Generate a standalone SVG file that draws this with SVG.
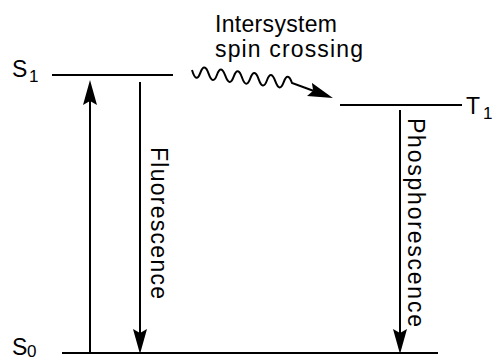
<svg xmlns="http://www.w3.org/2000/svg" width="496" height="360" viewBox="0 0 496 360">
<style>
.lvl{stroke:#000;stroke-width:2;fill:none}
.arr{stroke:#000;stroke-width:2;fill:none;marker-end:url(#ah)}
.t{font-family:"Liberation Sans",Arial,sans-serif;fill:#000}
.lab{font-size:23px}
.sub{font-size:17px}
.big{font-size:23px}
</style>
<defs>
<marker id="ah" markerUnits="userSpaceOnUse" markerWidth="26" markerHeight="16" viewBox="0 0 26 16" refX="4" refY="7" orient="auto">
<path d="M25,7 L0,0 L4,7 L0,14 Z" fill="#000"/>
</marker>
</defs>
<g id="S1">
<line class="lvl" x1="52" y1="75" x2="173" y2="75"/>
<text class="t lab" x="12" y="77">S</text><text class="t sub" x="29" y="82">1</text>
</g>
<g id="T1">
<line class="lvl" x1="340" y1="105" x2="462" y2="105"/>
<text class="t lab" x="466" y="114">T</text><text class="t sub" x="483" y="119">1</text>
</g>
<g id="S0">
<line class="lvl" x1="62" y1="353" x2="438" y2="353"/>
<text class="t lab" x="12" y="355">S</text><text class="t sub" x="27" y="357">0</text>
</g>
<g id="isc-label">
<text class="t big" x="215" y="32" textLength="122" lengthAdjust="spacing">Intersystem</text>
<text class="t big" x="215" y="57" textLength="148" lengthAdjust="spacing">spin crossing</text>
</g>
<g id="connectors">
<line class="arr" x1="90" y1="353" x2="90" y2="101"/>
<line class="arr" x1="140" y1="82" x2="140" y2="333"/>
<line class="arr" x1="400" y1="110" x2="400" y2="333"/>
<path class="arr" d="M192,70 Q196.2,84 200.3,72.9 T208.7,73.8 T217,74.75 T225.3,75.7 T233.7,76.6 T242,77.5 T250.3,78.4 T258.7,79.3 T267,80.25 T275.3,81.2 T283.7,82.1 T292,83 L313.2,90.8"/>
</g>
<g id="fluorescence-label">
<text class="t big" transform="translate(151,147) rotate(90)" x="0" y="0" textLength="152" lengthAdjust="spacing">Fluorescence</text>
</g>
<g id="phosphorescence-label">
<text class="t big" transform="translate(408,118) rotate(90)" x="0" y="0" textLength="209" lengthAdjust="spacing">Phosphorescence</text>
</g>
</svg>
